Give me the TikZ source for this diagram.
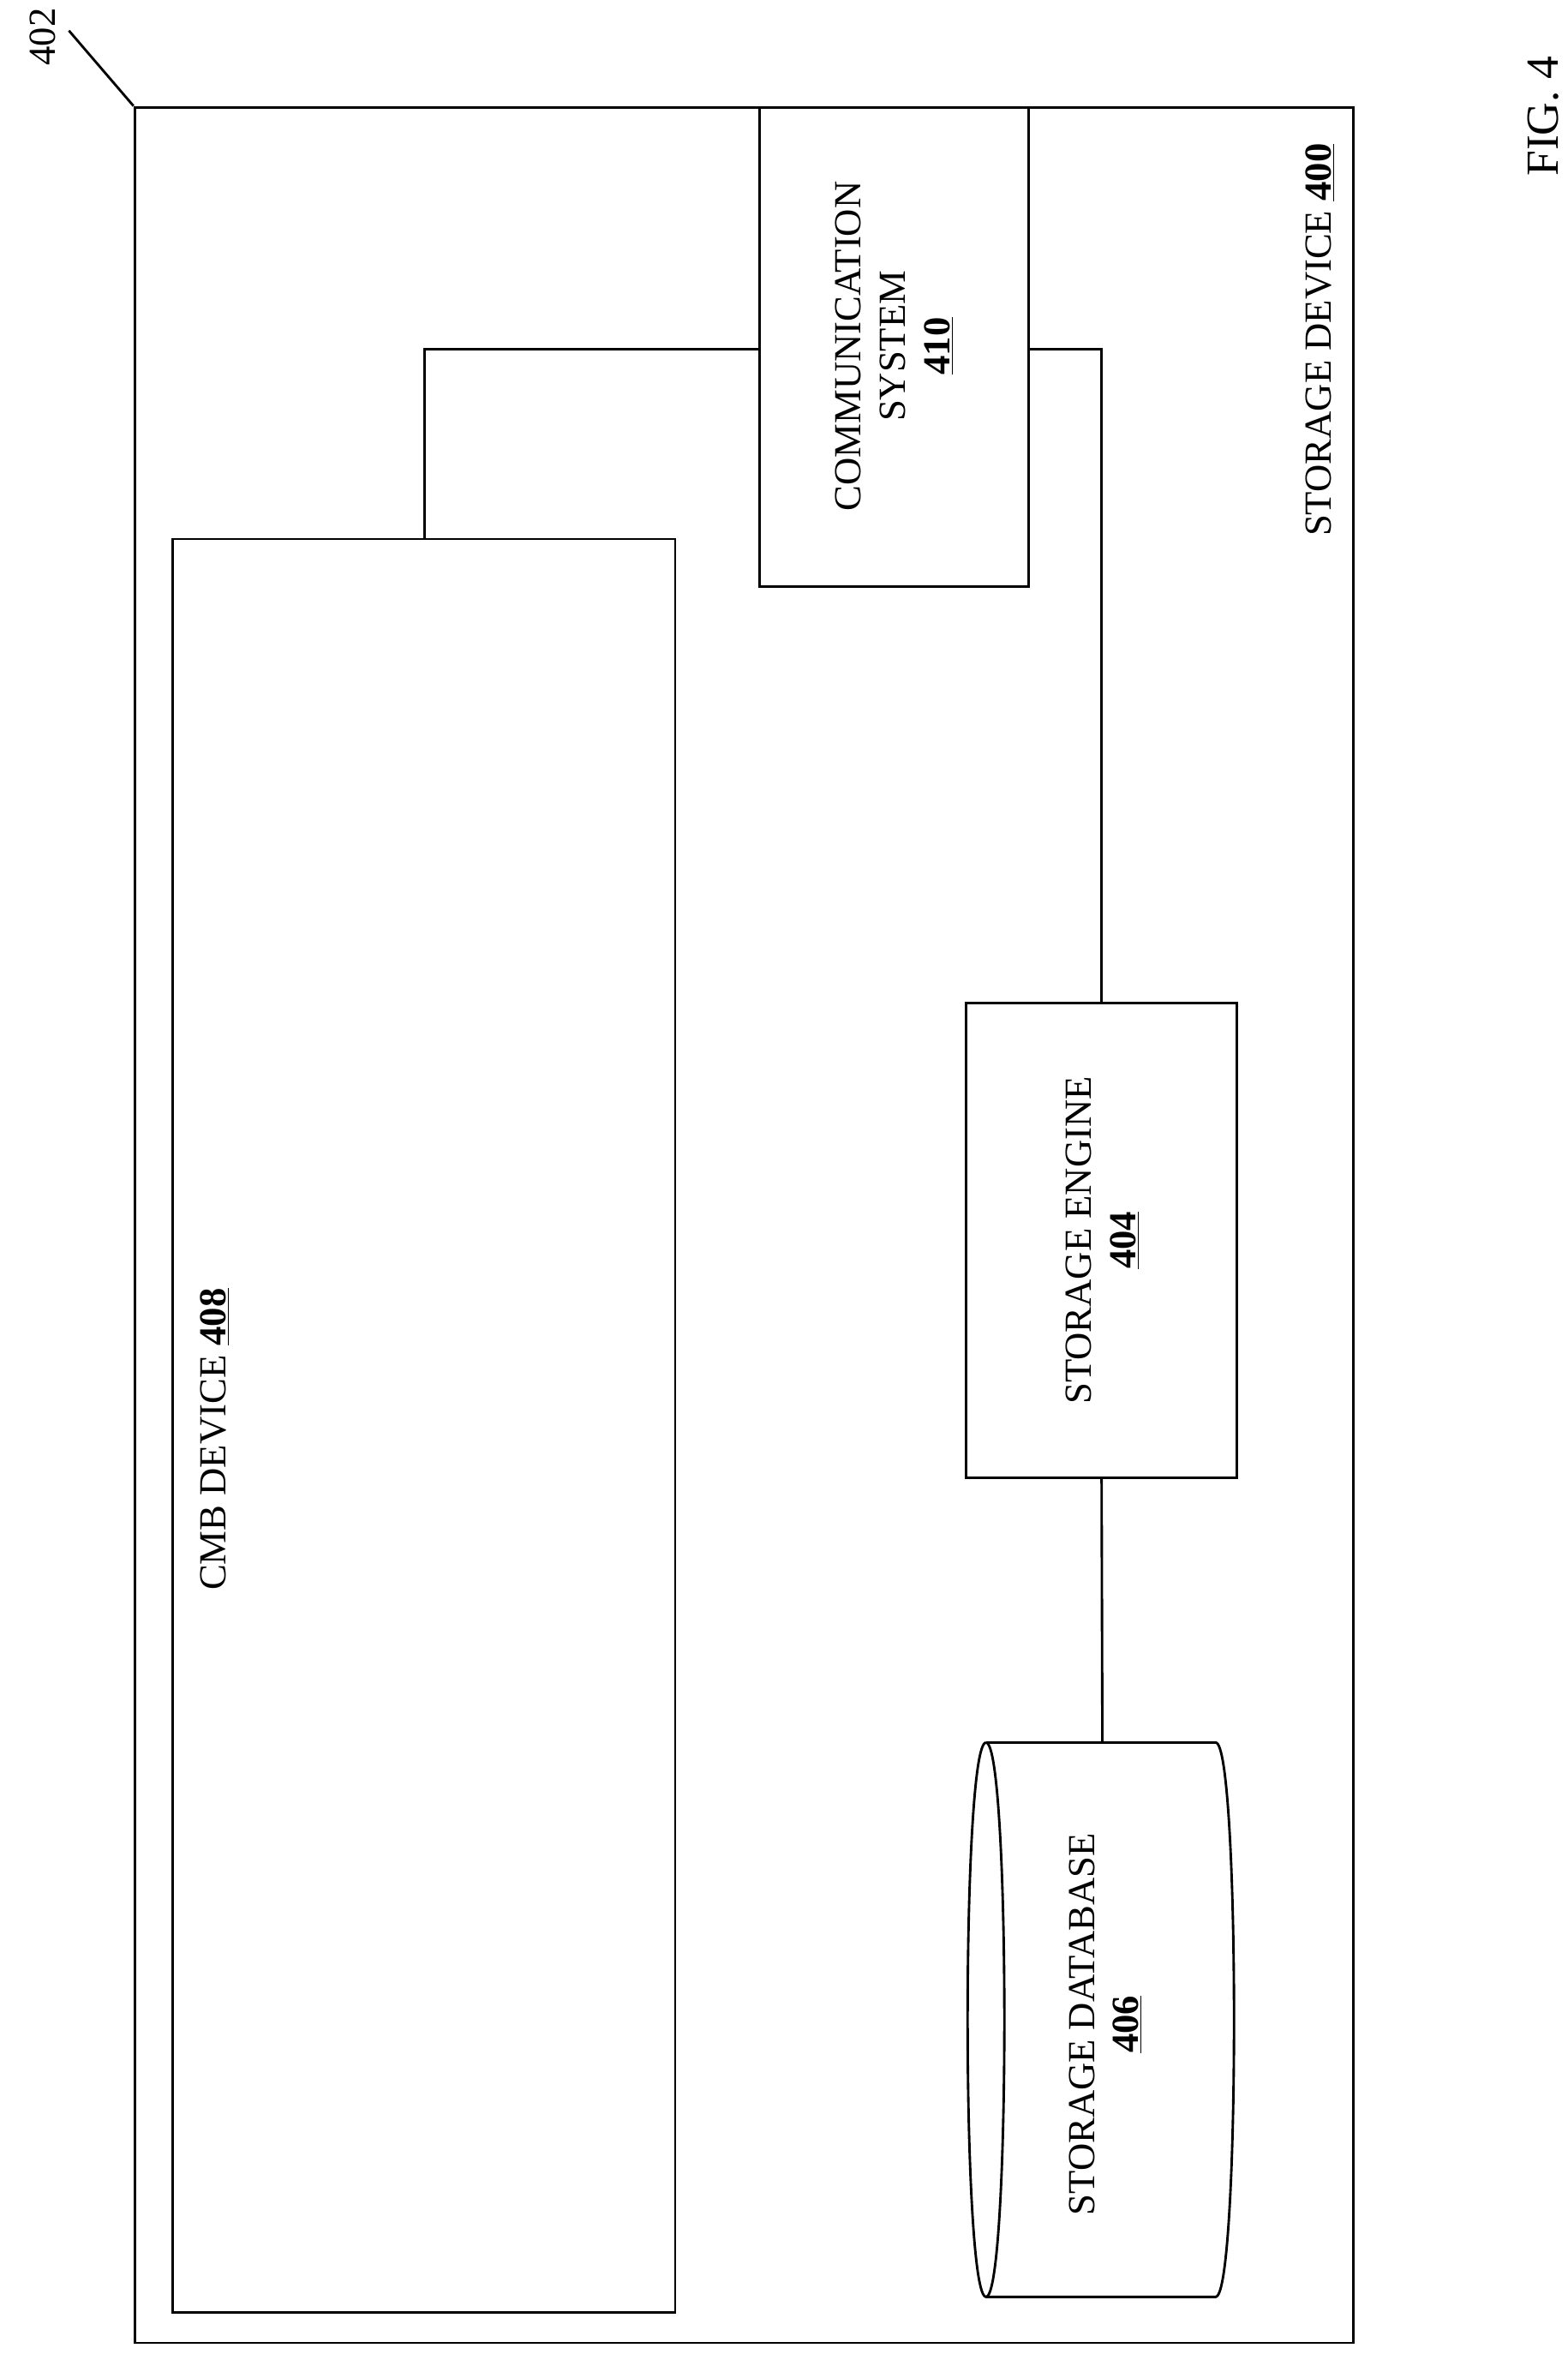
\documentclass[tikz,border=0pt]{standalone}
\usepackage{fontspec}
\setmainfont{Liberation Serif}
\begin{document}
\begin{tikzpicture}[x=1pt,y=-1pt,line width=1.6pt]
    \tikzstyle{box}=[draw,rectangle,inner sep=0pt]
    \tikzstyle{lbl}=[rotate=90,align=center,font=\fontsize{25}{29}\selectfont]
    \useasboundingbox (0,0) rectangle (1024,1553);

    % boxes
    \node[box,minimum width=796pt,minimum height=1460pt] (dev) at (486,800) {};
    \node[box,minimum width=176pt,minimum height=313pt] (comm) at (584,226.5) {};
    \node[box,minimum width=328pt,minimum height=1158pt] (cmb) at (277,931) {};
    \node[box,minimum width=177pt,minimum height=310pt] (eng) at (719.5,810) {};

    % database
    \coordinate (dbtop) at (720,1138);
    \draw (644,1138) -- (794,1138) .. controls (810,1138) and (810,1500) .. (794,1500) -- (644,1500);
    \draw (644,1138) .. controls (628,1138) and (628,1500) .. (644,1500)
          .. controls (660,1500) and (660,1138) .. (644,1138);

    % labels
    \node[lbl] (commlbl) at (584,226) {COMMUNICATION\\SYSTEM\\\underline{\textbf{410}}};
    \node[lbl] (englbl) at (720,810) {STORAGE ENGINE\\\underline{\textbf{404}}};
    \node[lbl] (dblbl) at (722,1322) {STORAGE DATABASE\\\underline{\textbf{406}}};
    \node[lbl] (cmblbl) at (140,940) {CMB DEVICE \underline{\textbf{408}}};
    \node[lbl] (devlbl) at (862,222) {STORAGE DEVICE \underline{\textbf{400}}};
    \node[lbl] (ref) at (28,24) {402};
    \node[lbl,font=\fontsize{30}{34}\selectfont] (fig) at (1008,76) {FIG. 4};

    % connectors
    \draw (cmb.north west) ++(165,0) |- (comm.west |- 0,228);
    \draw (comm.east |- 0,228) -| (eng.north);
    \draw (eng.south) -- (dbtop);
    \draw (45,20) -- (dev.north west);
\end{tikzpicture}
\end{document}
